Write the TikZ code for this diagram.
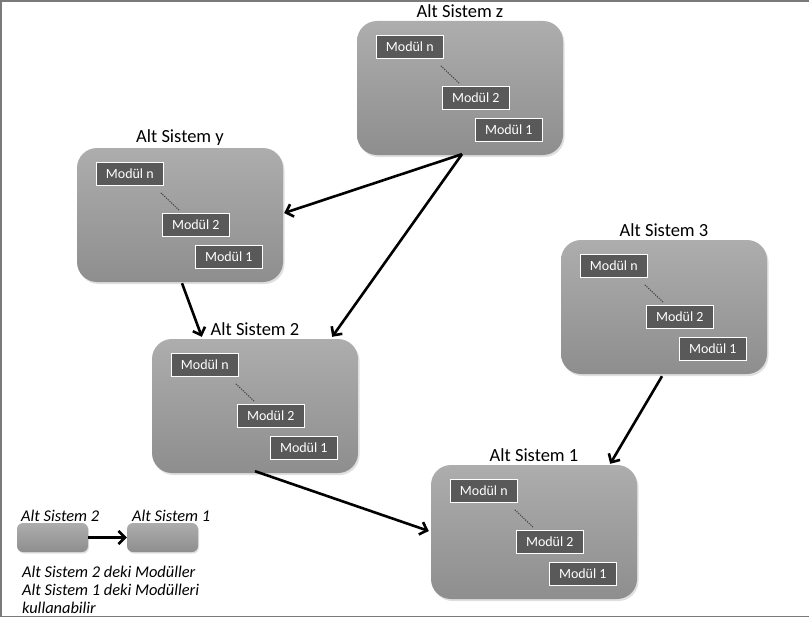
\documentclass[tikz,border=0pt]{standalone}
\usepackage{fontspec}
\setmainfont{Carlito}
\usetikzlibrary{calc,shadows,arrows.meta}
\definecolor{boxtop}{HTML}{ADADAD}
\definecolor{boxbot}{HTML}{8E8E8E}
\definecolor{moddark}{HTML}{595959}
\definecolor{framecol}{HTML}{7A7A7A}
\tikzset{
  sysbox/.style={rectangle, minimum width=206pt, minimum height=134pt, inner sep=0pt,
    rounded corners=20pt, top color=boxtop, bottom color=boxbot,
    drop shadow={opacity=0.25, shadow xshift=1.5pt, shadow yshift=-2pt}},
  legbox/.style={rectangle, minimum width=71pt, minimum height=29pt, inner sep=0pt,
    rounded corners=6pt, top color=boxtop, bottom color=boxbot,
    drop shadow={opacity=0.25, shadow xshift=1pt, shadow yshift=-1.5pt}},
  systitle/.style={anchor=south, inner sep=2.5pt, font=\fontsize{18.5}{21}\selectfont},
  modbox/.style={rectangle, fill=moddark, draw=white, line width=1.5pt, text=white,
    minimum width=67pt, minimum height=23pt, inner sep=0pt, font=\fontsize{14}{16}\selectfont},
  dotline/.style={dash pattern=on 1.2pt off 1.2pt, line width=1pt, black!75},
  dep/.style={line width=2.6pt, -{Straight Barb[length=6.5pt,width=13pt]}},
  legtext/.style={anchor=base west, inner sep=0pt, font=\fontsize{16.4}{19}\selectfont\itshape},
}
\newcommand\subsys[4]{%
  \node[sysbox] (#1) at (#2+103, #3+67) {};
  \node[systitle] (#1t) at (#1.north) {#4};
  \node[modbox] (#1n) at ($(#1.north west)+(53,26)$) {Modül n};
  \node[modbox] (#1b) at ($(#1.north west)+(119,77)$) {Modül 2};
  \node[modbox] (#1a) at ($(#1.north west)+(152,109)$) {Modül 1};
  \draw[dotline] ($(#1.north west)+(84,45)$) -- ($(#1.north west)+(103,63)$);
}
\begin{document}
\begin{tikzpicture}[x=1pt, y=-1pt]
\useasboundingbox (0,0) rectangle (809,618);
\fill[white] (0,0) rectangle (809,618);
\draw[framecol, line width=1.5pt] (812,1) -- (1,1) -- (1,616.5) -- (812,616.5);

\subsys{sz}{357}{21}{Alt Sistem z}
\subsys{sy}{77}{148}{Alt Sistem y}
\subsys{s3}{561}{240}{Alt Sistem 3}
\subsys{s2}{152}{339}{Alt Sistem 2}
\subsys{s1}{431}{465}{Alt Sistem 1}

\coordinate (zy) at ($(sy.east)+(1,-2)$);
\coordinate (z2) at ($(s2.north east)+(-26,-2)$);
\coordinate (y2) at ($(s2.north west)+(50,-2)$);
\coordinate (s1w) at ($(s1.west)+(-2,-1)$);
\coordinate (s1ne) at ($(s1.north east)+(-27,-1)$);

\draw[dep] ($(sz.south)+(2,-1)$) -- (zy);
\draw[dep] ($(sz.south)+(2,-1)$) -- (z2);
\draw[dep] ($(sy.south)+(2,1)$) -- (y2);
\draw[dep] ($(s2.south)+(0,-2)$) -- (s1w);
\draw[dep] ($(s3.south)+(-2,2)$) -- (s1ne);

% legend
\node[legbox] (la) at (52.5,537.5) {};
\node[legbox] (lb) at (162.5,537.5) {};
\draw[dep] (la.east) -- (lb.west);
\node[legtext] (lat) at (21,521) {Alt Sistem 2};
\node[legtext] (lbt) at (132,521) {Alt Sistem 1};
\node[legtext] (l1) at (22,577) {Alt Sistem 2 deki Modüller};
\node[legtext] (l2) at (22,595) {Alt Sistem 1 deki Modülleri};
\node[legtext] (l3) at (22,613) {kullanabilir};
\end{tikzpicture}
\end{document}
